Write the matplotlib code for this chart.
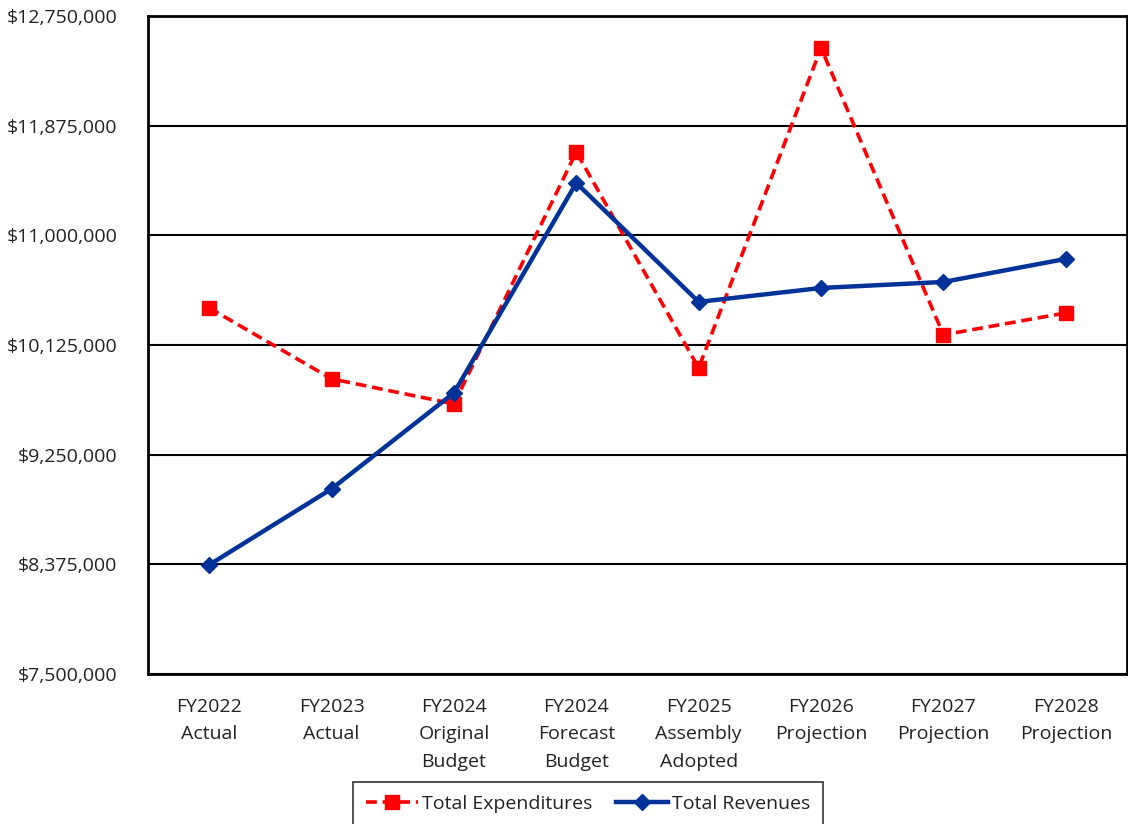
import matplotlib

matplotlib.use("Agg")
import matplotlib.pyplot as plt
from matplotlib.ticker import FuncFormatter

plt.rcParams["font.family"] = ["Open Sans", "DejaVu Sans"]

categories = [
    "FY2022\nActual",
    "FY2023\nActual",
    "FY2024\nOriginal\nBudget",
    "FY2024\nForecast\nBudget",
    "FY2025\nAssembly\nAdopted",
    "FY2026\nProjection",
    "FY2027\nProjection",
    "FY2028\nProjection",
]
expenditures = [10421000, 9855000, 9655000, 11665000, 9942000, 12495000, 10206000, 10381000]
revenues = [8371000, 8977000, 9743000, 11418000, 10469000, 10580000, 10628000, 10812000]
y_ticks = [7500000, 8375000, 9250000, 10125000, 11000000, 11875000, 12750000]

fig = plt.figure(figsize=(11.28, 8.24), dpi=100)
ax = fig.add_axes([148 / 1128, 150 / 824, (1127 - 148) / 1128, (674 - 16) / 824])

x = list(range(len(categories)))
ax.plot(x, expenditures, color="#ff0000", linestyle=(0, (3, 1.6)), linewidth=2.6,
        marker="s", markersize=10, label="Total Expenditures", zorder=3)
ax.plot(x, revenues, color="#003399", linewidth=3.2, marker="D", markersize=8.5,
        label="Total Revenues", zorder=4)

ax.set_xlim(-0.5, len(categories) - 0.5)
ax.set_ylim(y_ticks[0], y_ticks[-1])
ax.set_yticks(y_ticks)
ax.yaxis.set_major_formatter(FuncFormatter(lambda v, p: f"${v:,.0f}"))
ax.set_xticks(x)
ax.set_xticklabels(categories, linespacing=1.7)
ax.grid(axis="y", color="black", linewidth=1.5)
ax.set_axisbelow(True)
ax.tick_params(axis="y", length=0, pad=22, labelsize=14, labelcolor="#222222")
ax.tick_params(axis="x", length=0, pad=17, labelsize=14, labelcolor="#222222")
for s in ax.spines.values():
    s.set_color("black")
    s.set_linewidth(2)

leg = fig.legend(loc="upper center", bbox_to_anchor=(588 / 1128, 42 / 824), ncol=2,
                 frameon=True, fancybox=False, edgecolor="black", fontsize=14,
                 handlelength=2.7, handletextpad=0.2, columnspacing=1.2,
                 borderpad=0.65, borderaxespad=0)
leg.get_frame().set_linewidth(1.2)
for t in leg.get_texts():
    t.set_color("#222222")

fig.savefig("out.png", dpi=100, facecolor="white")
